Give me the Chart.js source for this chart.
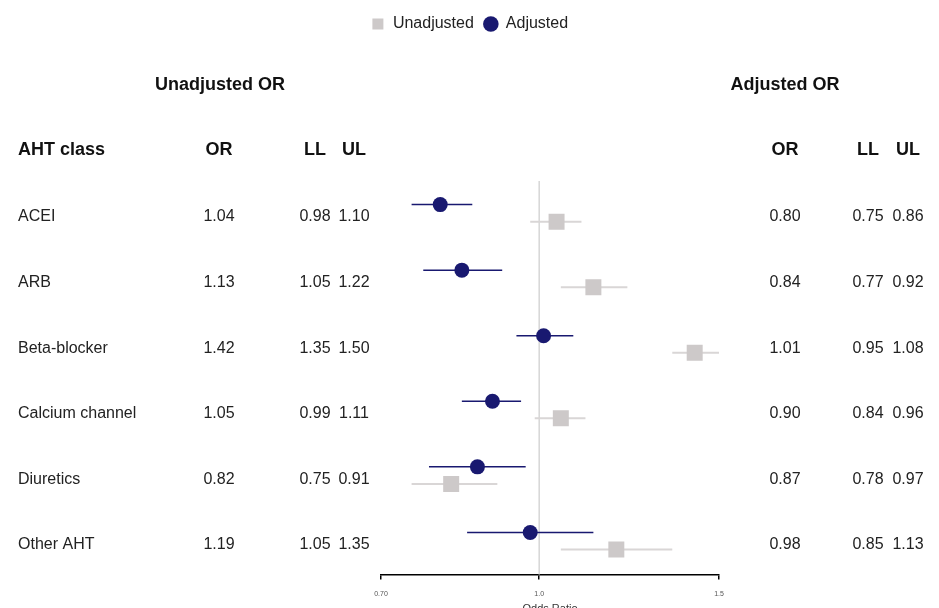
<!DOCTYPE html>
<html>
<head>
<meta charset="utf-8">
<script src="https://cdn.jsdelivr.net/npm/chart.js@4.4.0/dist/chart.umd.min.js"></script>
<style>
  html, body { margin: 0; padding: 0; background: #fff; overflow: hidden; }
  #wrap { width: 939px; height: 616px; position: relative; }
</style>
</head>
<body>
<div id="wrap"><canvas id="forestChart"></canvas></div>
<script>
// data
var classes = ["ACEI", "ARB", "Beta-blocker", "Calcium channel", "Diuretics", "Other AHT"];
var unadjOR = [1.04, 1.13, 1.42, 1.05, 0.82, 1.19];
var unadjLL = [0.98, 1.05, 1.35, 0.99, 0.75, 1.05];
var unadjUL = [1.10, 1.22, 1.50, 1.11, 0.91, 1.35];
var adjOR = [0.80, 0.84, 1.01, 0.90, 0.87, 0.98];
var adjLL = [0.75, 0.77, 0.95, 0.84, 0.78, 0.85];
var adjUL = [0.86, 0.92, 1.08, 0.96, 0.97, 1.13];
var tickValues = [0.70, 1.0, 1.5];
var tickLabels = ["0.70", "1.0", "1.5"];

// layout bits
var ADJ_SHIFT = -0.19, UNADJ_SHIFT = 0.07;
var leftCols = [219, 315, 354];
var rightCols = [785, 868, 908];
var FONT = '"Liberation Sans", Arial, sans-serif';

Chart.defaults.font.family = FONT;

function points(or, ll, ul, shift) {
    return or.map(function(v, i){
        return { x: v, y: i + shift, lo: ll[i], hi: ul[i] };
    });
}

var legendGap = {
    id: 'legendGap',
    beforeInit: function(chart){
        var fit = chart.legend.fit;
        chart.legend.fit = function(){
            fit.call(this);
            this.height += 139;
        };
    }
};

var whiskers = {
    id: 'whiskers',
    beforeDatasetsDraw: function(chart){
        var ctx = chart.ctx, xs = chart.scales.x, ys = chart.scales.y, area = chart.chartArea;
        ctx.save();
        // reference line at OR = 1
        var x1 = xs.getPixelForValue(1);
        ctx.strokeStyle = '#d6d6d6';
        ctx.lineWidth = 1.5;
        ctx.beginPath(); ctx.moveTo(x1, area.top); ctx.lineTo(x1, area.bottom); ctx.stroke();
        chart.data.datasets.forEach(function(ds){
            ctx.strokeStyle = ds.whiskerColor;
            ctx.lineWidth = ds.whiskerWidth;
            ds.data.forEach(function(p){
                var y = ys.getPixelForValue(p.y);
                ctx.beginPath();
                ctx.moveTo(xs.getPixelForValue(p.lo), y);
                ctx.lineTo(xs.getPixelForValue(p.hi), y);
                ctx.stroke();
            });
        });
        ctx.restore();
    }
};

var table = {
    id: 'table',
    afterDraw: function(chart){
        var ctx = chart.ctx, ys = chart.scales.y;
        ctx.save();
        ctx.textBaseline = 'middle';
        ctx.fillStyle = '#111';
        ctx.font = 'bold 18px ' + FONT;
        ctx.textAlign = 'center';
        ctx.fillText('Unadjusted OR', 220, 85);
        ctx.fillText('Adjusted OR', 785, 85);
        ['OR', 'LL', 'UL'].forEach(function(h, k){
            ctx.fillText(h, leftCols[k], 150);
            ctx.fillText(h, rightCols[k], 150);
        });
        ctx.textAlign = 'left';
        ctx.fillText('AHT class', 18, 150);

        ctx.font = '16px ' + FONT;
        ctx.fillStyle = '#222';
        classes.forEach(function(c, i){
            var y = ys.getPixelForValue(i);
            ctx.textAlign = 'left';
            ctx.fillText(c, 18, y);
            ctx.textAlign = 'center';
            [unadjOR[i], unadjLL[i], unadjUL[i]].forEach(function(v, k){
                ctx.fillText(v.toFixed(2), leftCols[k], y);
            });
            [adjOR[i], adjLL[i], adjUL[i]].forEach(function(v, k){
                ctx.fillText(v.toFixed(2), rightCols[k], y);
            });
        });
        ctx.restore();
    }
};

var ctx = document.getElementById('forestChart').getContext('2d');
var chart = new Chart(ctx, {
    type: 'scatter',
    data: {
        datasets: [{
            label: 'Unadjusted',
            data: points(unadjOR, unadjLL, unadjUL, UNADJ_SHIFT),
            pointStyle: 'rect',
            pointRadius: 11.3,
            pointBorderWidth: 0,
            backgroundColor: '#cdc9c9',
            borderColor: '#cdc9c9',
            whiskerColor: '#d9d6d6',
            whiskerWidth: 2
        }, {
            label: 'Adjusted',
            data: points(adjOR, adjLL, adjUL, ADJ_SHIFT),
            pointStyle: 'circle',
            pointRadius: 7.5,
            pointBorderWidth: 0,
            backgroundColor: '#191970',
            borderColor: '#191970',
            whiskerColor: '#191970',
            whiskerWidth: 1.5
        }]
    },
    options: {
        responsive: true,
        maintainAspectRatio: false,
        animation: false,
        layout: { padding: { top: 6, left: 0, right: 0, bottom: 0 } },
        plugins: {
            tooltip: { enabled: false },
            legend: {
                position: 'top',
                labels: {
                    usePointStyle: true,
                    boxWidth: 14,
                    boxHeight: 11,
                    padding: 10,
                    color: '#222',
                    font: { size: 16 }
                }
            }
        },
        scales: {
            x: {
                type: 'logarithmic',
                position: 'bottom',
                min: 0.7,
                max: 1.5,
                afterBuildTicks: function(scale){
                    scale.ticks = tickValues.map(function(v){ return { value: v }; });
                },
                ticks: {
                    autoSkip: false,
                    maxRotation: 0,
                    padding: 10,
                    color: '#555',
                    font: { size: 7 },
                    callback: function(v, i){ return tickLabels[i]; }
                },
                grid: { drawOnChartArea: false, drawTicks: true, tickLength: 5, color: '#000', lineWidth: 1.5 },
                border: { display: true, color: '#000', width: 1.5 },
                title: { display: true, text: 'Odds Ratio', color: '#333', font: { size: 11 }, padding: { top: -5, bottom: 0 } }
            },
            y: {
                type: 'linear',
                position: 'left',
                min: -0.55,
                max: 5.45,
                reverse: true,
                ticks: { display: false },
                grid: { display: false },
                border: { display: false },
                afterFit: function(scale){ scale.width = 381; }
            },
            yr: {
                type: 'linear',
                position: 'right',
                ticks: { display: false },
                grid: { display: false },
                border: { display: false },
                afterFit: function(scale){ scale.width = 220; }
            }
        }
    },
    plugins: [legendGap, whiskers, table]
});
</script>
</body>
</html>
